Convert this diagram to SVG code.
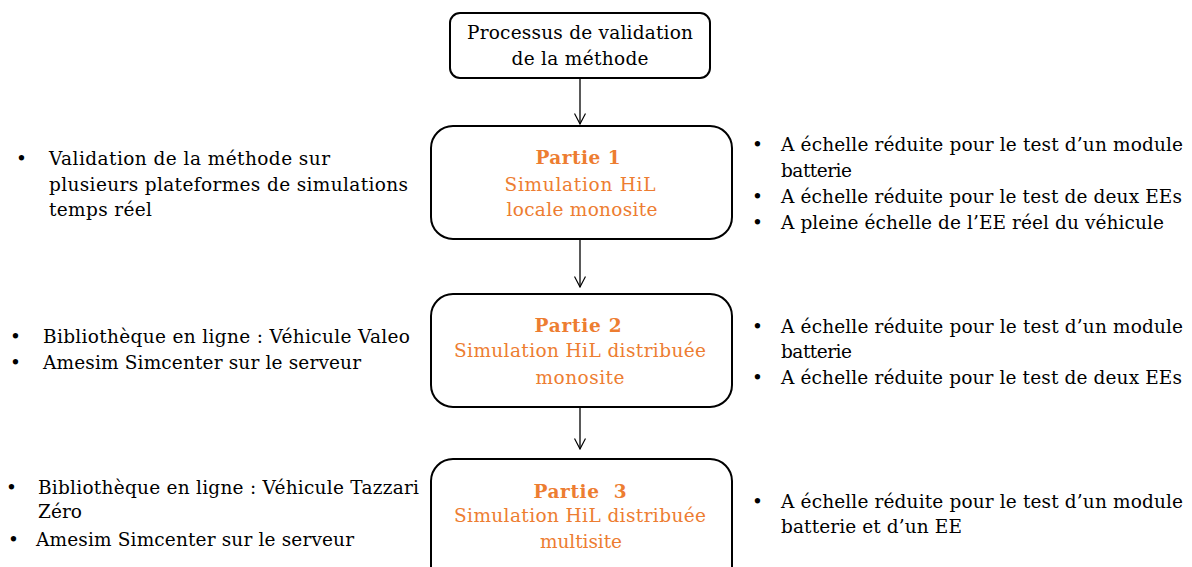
<svg xmlns="http://www.w3.org/2000/svg" width="1192" height="567" viewBox="0 0 1192 567">
<defs>
<marker id="arr" markerWidth="12" markerHeight="12" refX="11" refY="6" orient="auto" markerUnits="userSpaceOnUse" viewBox="0 0 12 12">
<polyline points="0.5,0.5 11,6 0.5,11.5" fill="none" stroke="#000" stroke-width="1.2"/>
</marker>
<style>
text{font-family:"DejaVu Serif","Liberation Serif",serif;font-size:18.5px;fill:#000}
.c{text-anchor:middle}
.o{fill:#ED7D31}
.b{font-weight:bold}
.box{fill:#fff;stroke:#000;stroke-width:2}
.conn line{stroke:#000;stroke-width:1.3}
</style>
</defs>
<rect width="1192" height="567" fill="#fff"/>
<g class="conn">
<line x1="580" y1="79" x2="580" y2="124" marker-end="url(#arr)"/>
<line x1="580" y1="240" x2="580" y2="287" marker-end="url(#arr)"/>
<line x1="580" y1="408" x2="580" y2="449" marker-end="url(#arr)"/>
</g>
<g id="n0">
<rect class="box" x="450" y="13" width="260" height="65" rx="10"/>
<text class="c" x="580" y="39" textLength="226">Processus de validation</text>
<text class="c" x="580" y="65" textLength="137">de la méthode</text>
</g>
<g id="n1">
<rect class="box" x="431" y="126" width="301" height="113" rx="22"/>
<text class="c o b" x="578" y="164" textLength="85">Partie 1</text>
<text class="c o" x="580" y="191" textLength="151">Simulation HiL</text>
<text class="c o" x="582" y="216" textLength="151">locale monosite</text>
</g>
<g id="n2">
<rect class="box" x="431" y="294" width="301" height="113" rx="22"/>
<text class="c o b" x="578" y="332" textLength="87">Partie 2</text>
<text class="c o" x="580" y="357" textLength="252">Simulation HiL distribuée</text>
<text class="c o" x="580" y="384" textLength="89">monosite</text>
</g>
<g id="n3">
<rect class="box" x="431" y="459" width="301" height="130" rx="22"/>
<text class="c o b" x="580" y="498" textLength="93" xml:space="preserve">Partie  3</text>
<text class="c o" x="580" y="522" textLength="252">Simulation HiL distribuée</text>
<text class="c o" x="581" y="548" textLength="82">multisite</text>
</g>
<g id="l1">
<text x="16" y="165">•</text>
<text x="49" y="165" textLength="281">Validation de la méthode sur</text>
<text x="49" y="191" textLength="359">plusieurs plateformes de simulations</text>
<text x="49" y="216" textLength="103">temps réel</text>
</g>
<g id="r1">
<text x="752" y="151">•</text>
<text x="781" y="151" textLength="402">A échelle réduite pour le test d’un module</text>
<text x="781" y="177" textLength="71">batterie</text>
<text x="752" y="203">•</text>
<text x="781" y="203" textLength="401">A échelle réduite pour le test de deux EEs</text>
<text x="752" y="229">•</text>
<text x="781" y="229" textLength="383">A pleine échelle de l’EE réel du véhicule</text>
</g>
<g id="l2">
<text x="10" y="343">•</text>
<text x="43" y="343" textLength="367">Bibliothèque en ligne : Véhicule Valeo</text>
<text x="10" y="369">•</text>
<text x="43" y="369" textLength="318">Amesim Simcenter sur le serveur</text>
</g>
<g id="r2">
<text x="752" y="333">•</text>
<text x="781" y="333" textLength="402">A échelle réduite pour le test d’un module</text>
<text x="781" y="358" textLength="71">batterie</text>
<text x="752" y="384">•</text>
<text x="781" y="384" textLength="401">A échelle réduite pour le test de deux EEs</text>
</g>
<g id="l3">
<text x="6" y="494">•</text>
<text x="38" y="494" textLength="381">Bibliothèque en ligne : Véhicule Tazzari</text>
<text x="38" y="518" textLength="44">Zéro</text>
<text x="8" y="546">•</text>
<text x="36" y="546" textLength="318">Amesim Simcenter sur le serveur</text>
</g>
<g id="r3">
<text x="752" y="508">•</text>
<text x="781" y="508" textLength="402">A échelle réduite pour le test d’un module</text>
<text x="781" y="533" textLength="181">batterie et d’un EE</text>
</g>
</svg>
